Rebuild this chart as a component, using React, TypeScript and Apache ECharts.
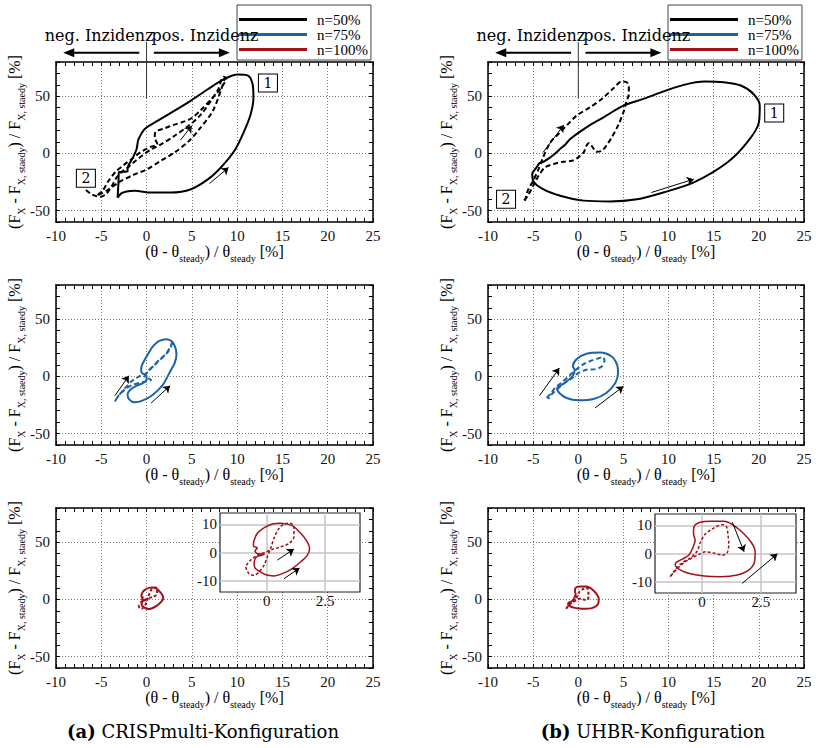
import React, { useEffect, useRef } from 'react';
import * as echarts from 'echarts';

// ---------- axes ----------
const X_MIN = -10;
const X_MAX = 25;
const X_STEP = 1;
const X_LABEL_EVERY = 5;
const Y_MIN = -60;
const Y_MAX = 80;
const Y_STEP = 10;
const Y_LABEL_EVERY = 50;
const INSET_X_MIN = -2;
const INSET_X_MAX = 4;
const INSET_X_STEP = 0.5;
const INSET_Y_MIN = -14;
const INSET_Y_MAX = 14;
const INSET_Y_STEP = 2;
const insetXLabels = [0, 2.5];
const insetYLabels = [-10, 0, 10];

// ---------- texts ----------
const legendNames = ['n=50%', 'n=75%', 'n=100%'];
const legendColors = ['#000000', '#1d62a5', '#a3101c'];
const captionTags = ['(a)', '(b)'];
const captionTexts = ['CRISPmulti-Konfiguration', 'UHBR-Konfiguration'];
const incidenceTexts = ['neg. Inzidenz', 'pos. Inzidenz'];
const boxLabels = ['1', '2'];

// ---------- data: n = 50 % ----------
const crisp50Solid = [
  [-3.2, -38.8], [-2.8, -35], [-2.2, -33.3], [-1.3, -32.7], [0.5, -34.2], [2.7, -34.2], [4.9, -31.3],
  [6.8, -22.5], [8.2, -12.3], [9.7, 2.3], [10.8, 19.9], [11.5, 34.5], [11.8, 49], [11.7, 60.8],
  [11.2, 68], [10.1, 69], [8.6, 65.2], [6.8, 56.4], [4.9, 46.2], [3.1, 37.4], [1.25, 28.7],
  [-0.2, 21.3], [-0.8, 14], [-0.95, 11], [-1.1, 3.8], [-1.5, -3.5], [-1.9, -9], [-2.1, -13],
  [-2.1, -15.8], [-3.05, -16.3], [-3.1, -25], [-3.2, -38.8],
];
const crisp50Dashed = [
  [-6.7, -32], [-6, -36], [-5.1, -38], [-4.4, -35], [-3.8, -28], [-3.3, -21], [-2.7, -16],
  [-2, -12], [-1.3, -7], [-0.5, -2], [0.5, 3.5], [1.6, 8], [3.1, 15.5], [4.6, 24], [6, 34],
  [7.1, 46], [7.9, 56], [8.5, 67], [8.8, 66], [8.3, 58], [7.2, 48], [6, 38], [5, 31], [4.2, 28],
  [3, 25], [2, 22], [1, 19], [0.9, 14], [1.2, 8], [0.5, 6], [0, 4], [-0.7, 1], [-1.5, -4],
  [-2.5, -10], [-3.4, -16], [-4.2, -24], [-4.8, -32], [-5.5, -37], [-4.3, -32], [-3, -25],
  [-1.5, -19], [0, -14], [1.6, -6.4], [3.1, 0.9], [4.7, 11], [5.8, 21], [7.3, 37], [8.2, 55], [8.6, 65],
];
const uhbr50Solid = [
  [-5.1, -17], [-5, -24], [-3.9, -31.3], [-2, -37], [0.6, -41.3], [3.5, -42], [6.5, -40.1],
  [9.4, -34.2], [12.8, -25.4], [16.5, -8], [18.7, 9.6], [20, 27], [20.1, 41.8], [19.4, 52],
  [18, 59.4], [16.1, 62.3], [14, 62.9], [11.7, 60], [9, 53], [7.2, 47.7], [5, 41.8], [2.8, 31.6],
  [0.9, 22.8], [-0.9, 12.6], [-1.4, 8], [-2, 4], [-2.4, 1], [-3.1, -3.5], [-3.9, -7.5],
  [-4.3, -8.5], [-4.6, -12], [-5.1, -17],
];
const uhbr50Dashed = [
  [-5.9, -41.5], [-5.6, -32.7], [-5, -24], [-4.4, -13.7], [-3.9, -3.5], [-3.1, 9.6], [-2.2, 17],
  [-1.3, 24.3], [-0.2, 33], [1.3, 40.4], [2.6, 47.7], [3.9, 57], [4.8, 62.9], [5.4, 62], [5.6, 58],
  [5.6, 52], [5.3, 44.7], [5, 36], [4.4, 24.3], [3.7, 14], [3.1, 6.7], [2.6, 2.3], [2, 1.5],
  [1.6, 5.3], [1.2, 9.1], [0.9, 6.7], [0.6, 0.9], [0, -3.5], [-0.7, -6.4], [-1.7, -7.3],
  [-2.8, -9.4], [-3.7, -12.3], [-4.4, -19.6], [-5, -28.4], [-5.6, -37.1], [-6.1, -42],
];

// ---------- data: n = 75 % ----------
const crisp75Solid = [
  [0, 0.6], [-0.5, 2.9], [-0.6, 5.8], [-0.5, 10.2], [0, 17.4], [0.7, 26.2], [1.4, 31.1],
  [2.2, 32.6], [2.8, 30.5], [3.2, 24.7], [3.3, 18.9], [3.1, 11.6], [2.7, 5.8], [1.8, -7.3],
  [0.7, -16], [-0.4, -21], [-1.3, -22.7], [-1.9, -20.3], [-2.1, -16], [-1.8, -11.6],
  [-1.1, -8.1], [-0.4, -5.8], [0, -2.9], [0, 0.6],
];
const crisp75Dashed = [
  [-3.5, -21.8], [-3, -16], [-2.2, -8.7], [-1.7, -4.4], [-0.8, 0], [0, 2.9], [0.7, 8.7],
  [1.4, 14.5], [2.2, 20.3], [2.7, 27.6], [2.9, 31.4], [2.7, 26.2], [2.4, 21.8], [1.8, 16.9],
  [1.1, 11.6], [0.3, 5.8], [-0.2, 0], [0.5, -2.9], [-0.5, -5], [-1.5, -7.3], [-2.2, -10.2],
  [-3, -16], [-3.5, -21.8],
];
const uhbr75Solid = [
  [-2.4, -10.2], [-1.3, -4.4], [-0.6, 0.6], [-0.4, 5.8], [-0.6, 8.7], [-0.2, 15.1], [0.9, 19.8],
  [2.4, 20.9], [3.7, 17.4], [4.3, 10.2], [4.4, 2.9], [4.1, -5.8], [3.1, -14.5], [1.7, -19.8],
  [0, -20.9], [-1.3, -18.9], [-2.1, -14.5], [-2.4, -10.2],
];
const uhbr75Dashed = [
  [-3.5, -18.9], [-3, -14.5], [-2.6, -10.2], [-1.9, -5.8], [-1.2, -1], [-0.6, 3.5], [0.2, 8.7],
  [0.8, 11.6], [1.6, 14.3], [2.2, 15.8], [2.7, 16.9], [2.9, 14], [2.6, 8.7], [1.9, 6.4],
  [0.9, 5.8], [0, 2.9], [-0.7, -1.5], [-1.5, -5.8], [-2.2, -10.2], [-3, -16], [-3.3, -19.8],
];

// ---------- data: n = 100 % ----------
const crisp100Solid = [
  [-0.4, -1.3], [-0.5, -2.3], [-0.54, -4], [-0.5, -5.5], [-0.33, -6.6], [-0.04, -7.9], [0.31, -8.3],
  [0.67, -7.5], [1.1, -5.7], [1.46, -3.3], [1.74, -1], [1.84, 1.4], [1.74, 3.8], [1.46, 6.8],
  [1.1, 9.5], [0.6, 10.4], [0.24, 10.1], [-0.1, 8.8], [-0.4, 6.8], [-0.55, 4], [-0.57, 2.3],
  [-0.4, 1.6], [-0.5, 0.5], [-0.4, -0.4], [-0.1, -0.6], [-0.4, -1.3],
];
const crisp100Dashed = [
  [-0.9, -5.1], [-0.76, -7.5], [-0.54, -8.1], [-0.33, -6.9], [-0.11, -4.5], [0.03, -1.5],
  [0.17, 1.4], [0.31, 5], [0.53, 8.6], [0.74, 10], [1.03, 10.4], [1.17, 8.6], [1.17, 5.6],
  [0.96, 3.2], [0.6, 2], [0.24, 1.1], [-0.11, -0.1], [-0.4, -1], [-0.69, -2.7], [-0.87, -4.5],
];
const uhbr100Solid = [
  [-0.29, 10.2], [-0.07, 11.1], [0.36, 11.4], [0.93, 11.4], [1.36, 9.9], [1.79, 6.9], [2.1, 3.9],
  [2.26, 0.8], [2.24, -2.8], [2, -5.8], [1.5, -7.6], [0.79, -8.2], [0.1, -8], [-0.5, -7.2],
  [-0.93, -5.8], [-1.14, -4], [-1.07, -3], [-0.79, -1.8], [-0.57, -0.6], [-0.46, 0.8],
  [-0.36, 2.7], [-0.29, 4.7], [-0.36, 6.9], [-0.36, 8.7], [-0.29, 10.2],
];
const uhbr100Dashed = [
  [-1.36, -8.2], [-1.14, -5.8], [-0.86, -3.4], [-0.5, -1.6], [-0.21, 0.8], [-0.07, 3.9],
  [0.14, 6.9], [0.5, 9], [0.86, 10.2], [1.04, 9.5], [1.11, 6.3], [1.14, 3.3], [1.07, 0.2],
  [0.86, -0.6], [0.5, 0.2], [0.14, 0.6], [-0.14, -0.4], [-0.43, -1.6], [-0.79, -3.4],
  [-1.1, -5.8], [-1.33, -8],
];

// ---------- direction arrows & station boxes (data coordinates) ----------
const crisp50Arrows = [[[6.95, -26.3], [9.05, -12.3]], [[3.75, 11.7], [5.0, 24.3]]];
const uhbr50Arrows = [[[-3.9, 0.9], [-1.6, 24.9]], [[8.1, -34.2], [12.8, -22.5]]];
const crisp75Arrows = [[[-3.5, -16.9], [-1.95, 0.6]], [[0.5, -23.3], [2.6, -8.1]]];
const uhbr75Arrows = [[[-4.3, -16.9], [-2.1, 7.3]], [[1.85, -27.6], [5, -8.7]]];
const crisp100Arrows = [[[0.46, -2.7], [1.17, 1.2]], [[0.74, -9.3], [1.41, -5.5]]];
const uhbr100Arrows = [[[1.29, 11.1], [1.79, 0.6]], [[1.71, -10.6], [3.21, -0.1]]];
const crisp50Boxes = [[13.4, 61.7], [-6.7, -21.7]];
const uhbr50Boxes = [[21.7, 35.4], [-8, -40]];
const incidenceArrowTip = 9.2;
const incidenceArrowStart = 0.8;
const incidenceStemBottom = 48;

// ---------- layout ----------
const COL_LEFT = [56, 488];
const COL_WIDTH = [317, 316];
const ROW_TOP = [62, 285, 508];
const ROW_H = 160;
const INSETS_LAYOUT = [
  { left: 220, top: 513, width: 140, height: 79 },
  { left: 655, top: 514, width: 141, height: 79 },
];
const CAPTION_X = [203, 653];

const FONT = 'Liberation Serif, serif';
const CM = 'DejaVu Serif, serif';

const panels = [
  { col: 0, row: 0, c: 0, solid: crisp50Solid, dashed: crisp50Dashed, arrows: crisp50Arrows, boxes: crisp50Boxes },
  { col: 1, row: 0, c: 0, solid: uhbr50Solid, dashed: uhbr50Dashed, arrows: uhbr50Arrows, boxes: uhbr50Boxes },
  { col: 0, row: 1, c: 1, solid: crisp75Solid, dashed: crisp75Dashed, arrows: crisp75Arrows, boxes: [] },
  { col: 1, row: 1, c: 1, solid: uhbr75Solid, dashed: uhbr75Dashed, arrows: uhbr75Arrows, boxes: [] },
  { col: 0, row: 2, c: 2, solid: crisp100Solid, dashed: crisp100Dashed, arrows: [], boxes: [] },
  { col: 1, row: 2, c: 2, solid: uhbr100Solid, dashed: uhbr100Dashed, arrows: [], boxes: [] },
];
const insets = [
  { col: 0, solid: crisp100Solid, dashed: crisp100Dashed, arrows: crisp100Arrows },
  { col: 1, solid: uhbr100Solid, dashed: uhbr100Dashed, arrows: uhbr100Arrows },
];

const T = 'rgba(0,0,0,0)';
function periodic(period: number, idx: number, color: string) {
  return Array.from({ length: period }, (_, i) => (i === idx ? color : T));
}

const nameRich = {
  m: { fontFamily: FONT, fontSize: 16, color: '#000', lineHeight: 24, verticalAlign: 'middle' },
  s: { fontFamily: FONT, fontSize: 10, color: '#000', verticalAlign: 'bottom' },
};
const xName = '{m|(θ - θ}{s|steady}{m|) / θ}{s|steady}{m| [%]}';
const yName = '{m|(F}{s|X}{m| - F}{s|X, staedy}{m|) / F}{s|X, staedy}{m| [%]}';

const px = (col: number, x: number) => COL_LEFT[col] + ((x - X_MIN) / (X_MAX - X_MIN)) * COL_WIDTH[col];
const py = (row: number, y: number) => ROW_TOP[row] + ((Y_MAX - y) / (Y_MAX - Y_MIN)) * ROW_H;

function arrowEls(x1: number, x2: number, y: number) {
  const dir = Math.sign(x2 - x1);
  return [
    { type: 'line', z: 5, shape: { x1, y1: y, x2: x2 - dir * 8, y2: y }, style: { stroke: '#000', lineWidth: 2 } },
    {
      type: 'polygon', z: 5,
      shape: { points: [[x2, y], [x2 - dir * 11, y - 4.5], [x2 - dir * 11, y + 4.5]] },
      style: { fill: '#000' },
    },
  ];
}

function buildOption() {
  const grid: any[] = [];
  const xAxis: any[] = [];
  const yAxis: any[] = [];
  const series: any[] = [];
  const tickStyle = { show: true, inside: true, length: 4, lineStyle: { color: '#000', width: 1 } };
  const lineStyle = { show: true, onZero: false, lineStyle: { color: '#000', width: 1.5 } };

  panels.forEach((p, g) => {
    grid.push({ left: COL_LEFT[p.col], top: ROW_TOP[p.row], width: COL_WIDTH[p.col], height: ROW_H });
    const xBase = { gridIndex: g, type: 'value', min: X_MIN, max: X_MAX, interval: X_STEP, axisLine: lineStyle, axisTick: tickStyle };
    const yBase = { gridIndex: g, type: 'value', min: Y_MIN, max: Y_MAX, interval: Y_STEP, axisLine: lineStyle, axisTick: tickStyle };
    xAxis.push({
      ...xBase, position: 'bottom',
      axisLabel: {
        formatter: (v: number) => (v % X_LABEL_EVERY === 0 ? String(v) : ''),
        fontFamily: FONT, fontSize: 15, color: '#111', margin: 6,
      },
      splitLine: { show: true, lineStyle: { color: periodic(5, 0, '#7a7a7a'), width: 1, type: [1, 2] } },
      name: xName, nameLocation: 'middle', nameGap: 14, nameTextStyle: { rich: nameRich },
    });
    xAxis.push({ ...xBase, position: 'top', axisLabel: { show: false }, splitLine: { show: false } });
    yAxis.push({
      ...yBase, position: 'left',
      axisLabel: {
        formatter: (v: number) => (v % Y_LABEL_EVERY === 0 ? String(v) : ''),
        fontFamily: FONT, fontSize: 15, color: '#111', margin: 6,
      },
      splitLine: { show: true, lineStyle: { color: periodic(5, 1, '#7a7a7a'), width: 1, type: [1, 2] } },
      name: yName, nameLocation: 'middle', nameGap: 28, nameRotate: 90, nameTextStyle: { rich: nameRich },
    });
    yAxis.push({ ...yBase, position: 'right', axisLabel: { show: false }, splitLine: { show: false } });

    const color = legendColors[p.c];
    const name = legendNames[p.c];
    series.push({
      type: 'line', name, data: p.solid, xAxisIndex: 2 * g, yAxisIndex: 2 * g,
      symbol: 'none', smooth: 0.3, silent: true,
      lineStyle: { color, width: 2, type: 'solid' }, itemStyle: { color },
      markLine: p.arrows.length ? {
        silent: true, symbol: ['none', 'arrow'], symbolSize: 7,
        label: { show: false }, lineStyle: { color: '#000', width: 1, type: 'solid' },
        emphasis: { disabled: true },
        data: p.arrows.map((a) => [{ coord: a[0] }, { coord: a[1] }]),
      } : undefined,
      markPoint: p.boxes.length ? {
        silent: true, symbol: 'rect', symbolSize: [19, 18],
        itemStyle: { color: '#fff', borderColor: '#000', borderWidth: 1 },
        label: { show: true, formatter: '{b}', color: '#000', fontFamily: CM, fontSize: 14 },
        data: p.boxes.map((b, i) => ({ coord: b, name: boxLabels[i] })),
      } : undefined,
    });
    series.push({
      type: 'line', name, data: p.dashed, xAxisIndex: 2 * g, yAxisIndex: 2 * g,
      symbol: 'none', smooth: 0.3, silent: true,
      lineStyle: { color, width: 2, type: p.c === 2 ? [3, 2] : [5, 3] }, itemStyle: { color },
    });
  });

  const graphics: any[] = [];
  insets.forEach((ins, i) => {
    const g = panels.length + i;
    const L = INSETS_LAYOUT[i];
    grid.push({ left: L.left, top: L.top, width: L.width, height: L.height });
    graphics.push({
      type: 'rect', z: 1, silent: true,
      shape: { x: L.left, y: L.top, width: L.width, height: L.height },
      style: { fill: '#fff', stroke: '#222', lineWidth: 1.2 },
    });
    xAxis.push({
      gridIndex: g, type: 'value', min: INSET_X_MIN, max: INSET_X_MAX, interval: INSET_X_STEP, z: 3,
      axisLine: { show: false, onZero: false }, axisTick: { show: false },
      axisLabel: {
        formatter: (v: number) => (insetXLabels.includes(v) ? String(v) : ''),
        fontFamily: FONT, fontSize: 15, color: '#111', margin: 1,
      },
      splitLine: { show: true, lineStyle: { color: periodic(5, 4, '#c4c4c4'), width: 1.5 } },
    });
    yAxis.push({
      gridIndex: g, type: 'value', min: INSET_Y_MIN, max: INSET_Y_MAX, interval: INSET_Y_STEP, z: 3,
      axisLine: { show: false, onZero: false }, axisTick: { show: false },
      axisLabel: {
        formatter: (v: number) => (insetYLabels.includes(v) ? String(v) : ''),
        fontFamily: FONT, fontSize: 15, color: '#111', margin: 3,
      },
      splitLine: { show: true, lineStyle: { color: periodic(5, 2, '#c4c4c4'), width: 1.5 } },
    });
    const xi = 2 * panels.length + i;
    const color = legendColors[2];
    series.push({
      type: 'line', name: legendNames[2], data: ins.solid, xAxisIndex: xi, yAxisIndex: xi, z: 4,
      symbol: 'none', smooth: 0.3, silent: true,
      lineStyle: { color, width: 1.5, type: 'solid' }, itemStyle: { color },
      markLine: {
        silent: true, symbol: ['none', 'arrow'], symbolSize: 7,
        label: { show: false }, lineStyle: { color: '#000', width: 1, type: 'solid' },
        emphasis: { disabled: true },
        data: ins.arrows.map((a) => [{ coord: a[0] }, { coord: a[1] }]),
      },
    });
    series.push({
      type: 'line', name: legendNames[2], data: ins.dashed, xAxisIndex: xi, yAxisIndex: xi, z: 4,
      symbol: 'none', smooth: 0.3, silent: true,
      lineStyle: { color, width: 1.5, type: [3, 2] }, itemStyle: { color },
    });
  });

  // incidence annotations above the top panels
  [0, 1].forEach((col) => {
    const x0 = px(col, 0);
    const arrowY = ROW_TOP[0] - 9.3;
    graphics.push({
      type: 'line', z: 5, silent: true,
      shape: { x1: x0, y1: ROW_TOP[0] - 20, x2: x0, y2: py(0, incidenceStemBottom) },
      style: { stroke: '#333', lineWidth: 1 },
    });
    graphics.push(...arrowEls(px(col, -incidenceArrowStart), px(col, -incidenceArrowTip), arrowY));
    graphics.push(...arrowEls(px(col, incidenceArrowStart), px(col, incidenceArrowTip), arrowY));
    graphics.push({
      type: 'text', z: 5, silent: true, x: x0 + 7, y: ROW_TOP[0] - 27,
      style: { text: incidenceTexts[0], font: `16px ${CM}`, fill: '#000', align: 'right', verticalAlign: 'middle', textAlign: 'right', textVerticalAlign: 'middle' },
    });
    graphics.push({
      type: 'text', z: 5, silent: true, x: x0 + 5, y: ROW_TOP[0] - 27,
      style: { text: incidenceTexts[1], font: `16px ${CM}`, fill: '#000', align: 'left', verticalAlign: 'middle', textAlign: 'left', textVerticalAlign: 'middle' },
    });
  });

  const legend = [0, 1].map((col) => ({
    orient: 'vertical',
    left: col === 0 ? 237 : 668,
    top: 5,
    selectedMode: false,
    icon: 'rect',
    itemWidth: 68,
    itemHeight: 3,
    itemGap: 0,
    padding: [7, 3, 3, 2],
    borderColor: '#444',
    borderWidth: 1,
    textStyle: { fontFamily: FONT, fontSize: 15, color: '#000', lineHeight: 15, padding: [0, 0, 0, 5] },
    data: legendNames.map((n, i) => ({ name: n, itemStyle: { color: legendColors[i] } })),
  }));

  const title = [0, 1].map((col) => ({
    text: `{b|${captionTags[col]}} {r|${captionTexts[col]}}`,
    left: CAPTION_X[col],
    top: 722,
    padding: 0,
    textAlign: 'center',
    textStyle: {
      fontWeight: 'normal',
      fontFamily: CM,
      fontSize: 18,
      rich: {
        b: { fontFamily: CM, fontSize: 18, fontWeight: 'bold', color: '#000' },
        r: { fontFamily: CM, fontSize: 18, fontWeight: 'normal', color: '#000' },
      },
    },
  }));

  return {
    animation: false,
    backgroundColor: '#fff',
    title,
    legend,
    grid,
    xAxis,
    yAxis,
    series,
    graphic: { elements: graphics },
  };
}

export default function App() {
  const ref = useRef<HTMLDivElement>(null);
  useEffect(() => {
    const chart = echarts.init(ref.current as HTMLDivElement, undefined, { renderer: 'svg' });
    chart.setOption(buildOption() as any);
    return () => chart.dispose();
  }, []);
  return <div ref={ref} style={{ position: 'fixed', left: 0, top: 0, width: 816, height: 748 }} />;
}
